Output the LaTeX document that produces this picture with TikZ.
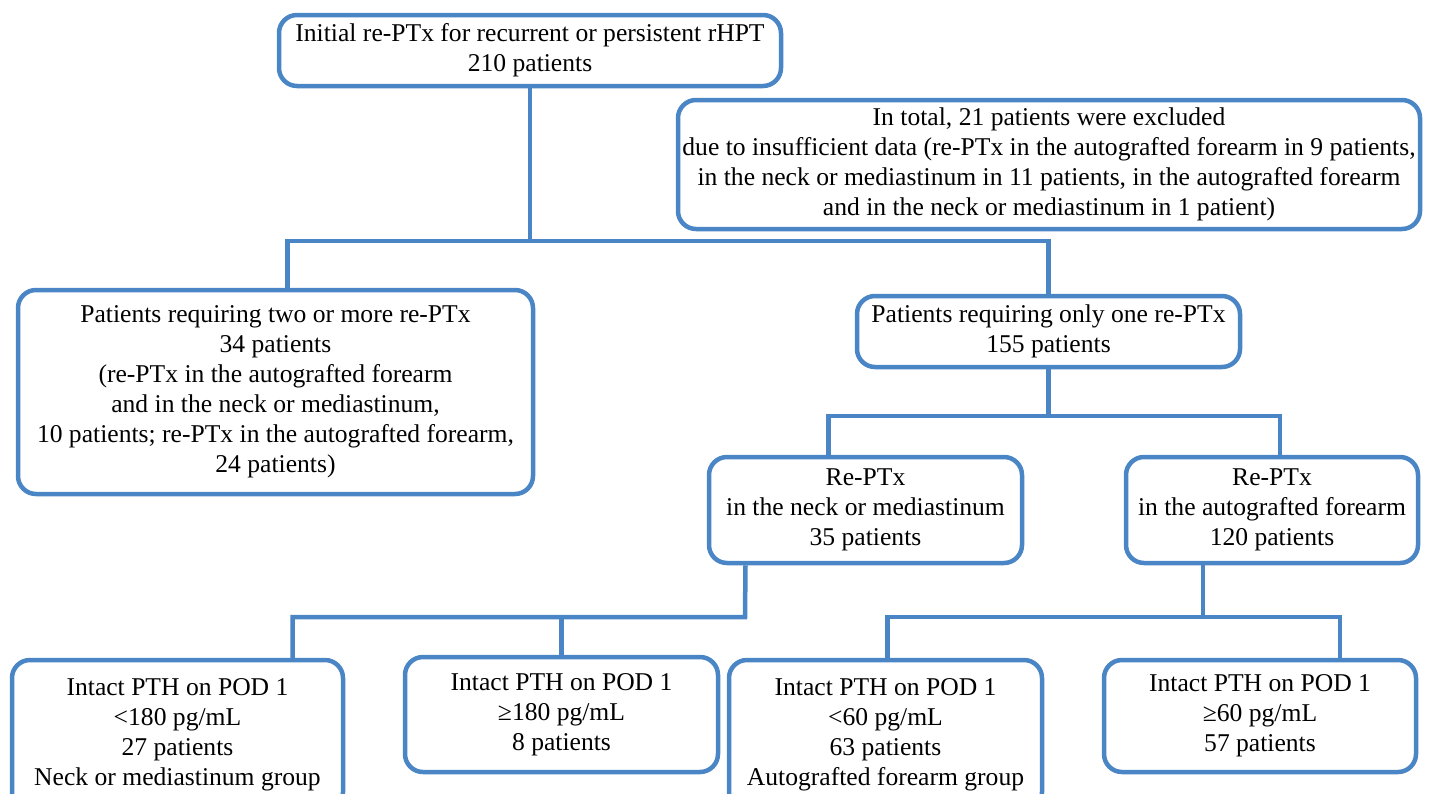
\documentclass[tikz,border=0pt]{standalone}
\usepackage{fontspec}
\setmainfont{Liberation Serif}
\definecolor{flowblue}{RGB}{74,134,198}

\begin{document}
\begin{tikzpicture}[x=1pt,y=-1pt,
  box/.style={draw=flowblue,line width=4.5,rounded corners=18,align=center,inner sep=0,
    font=\fontsize{25.6}{30}\selectfont},
  link/.style={draw=flowblue,line width=4.5}]

\clip (0,0) rectangle (1432,793);

\node[box,minimum width=502,minimum height=71] (init) at (530,50.5)
  {Initial re-PTx for recurrent or persistent rHPT\\210 patients};
\node[box,minimum width=742,minimum height=129] (excl) at (1049,164.5)
  {In total, 21 patients were excluded\\due to insufficient data (re-PTx in the autografted forearm in 9 patients,\\in the neck or mediastinum in 11 patients, in the autografted forearm\\and in the neck or mediastinum in 1 patient)};
\node[box,minimum width=515,minimum height=204] (two) at (275.5,392)
  {Patients requiring two or more re-PTx\\34 patients\\(re-PTx in the autografted forearm\\and in the neck or mediastinum,\\10 patients; re-PTx in the autografted forearm,\\24 patients)};
\node[box,minimum width=383,minimum height=71] (one) at (1048.5,331.5)
  {Patients requiring only one re-PTx\\155 patients};
\node[box,minimum width=313,minimum height=106] (neck) at (865.5,510)
  {Re-PTx\\in the neck or mediastinum\\35 patients};
\node[box,minimum width=292,minimum height=106] (fore) at (1272,510)
  {Re-PTx\\in the autografted forearm\\120 patients};
\node[box,minimum width=331,minimum height=150] (lowneck) at (177.5,735)
  {Intact PTH on POD 1\\<180 pg/mL\\27 patients\\Neck or mediastinum group};
\node[box,minimum width=313,minimum height=115] (highneck) at (561.5,714.5)
  {Intact PTH on POD 1\\≥180 pg/mL\\8 patients};
\node[box,minimum width=313,minimum height=150] (lowfore) at (885.5,735)
  {Intact PTH on POD 1\\<60 pg/mL\\63 patients\\Autografted forearm group};
\node[box,minimum width=312,minimum height=112] (highfore) at (1260,716)
  {Intact PTH on POD 1\\≥60 pg/mL\\57 patients};

\coordinate (j1) at (530,241);
\coordinate (j2) at (1048.5,416);
\coordinate (j3) at (745,617);
\coordinate (j4) at (1203,617);

\draw[link] (init) -- (j1);
\draw[link] ([xshift=12]two.north) |- (j1) -| (one.north);
\draw[link] (one) -- (j2);
\draw[link] ([xshift=-37]neck.north) |- (j2) -| ([xshift=8]fore.north);
\draw[link] ([xshift=-120]neck.south) -- (j3) -| ([xshift=115]lowneck.north);
\draw[link] (j3 -| highneck.north) -- (highneck.north);
\draw[link] ([xshift=-69]fore.south) -- (j4);
\draw[link] ([xshift=2]lowfore.north) |- (j4) -| ([xshift=80]highfore.north);

\end{tikzpicture}
\end{document}
